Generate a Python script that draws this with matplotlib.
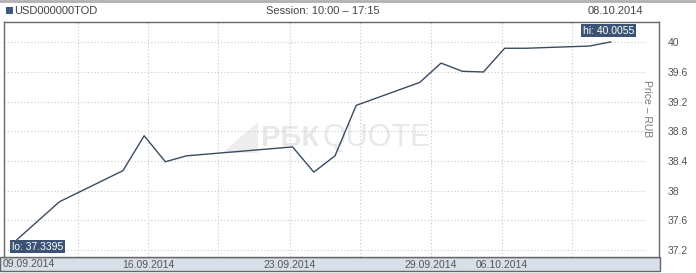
import matplotlib
matplotlib.use('Agg')
import matplotlib.pyplot as plt
import matplotlib.patches as patches

plt.rcParams['font.family'] = ['Liberation Sans', 'DejaVu Sans']

# session slots and prices (USD/RUB TOD)
slots = [0, 2, 5, 6, 7, 8, 13, 14, 15, 16, 19, 20, 21, 22, 23, 24, 27, 28]
prices = [37.3395, 37.85, 38.27, 38.74, 38.39, 38.47, 38.59, 38.25, 38.47,
          39.15, 39.46, 39.72, 39.61, 39.60, 39.92, 39.92, 39.95, 40.0055]

grid_slots = [2.88, 6.18, 9.48, 12.88, 16.18, 19.53, 22.88, 26.18]
date_labels = ['', '16.09.2014', '', '23.09.2014', '', '29.09.2014', '06.10.2014', '']
first_date = '09.09.2014'
y_ticks = [37.2, 37.6, 38.0, 38.4, 38.8, 39.2, 39.6, 40.0]
y_labels = ['37.2', '37.6', '38', '38.4', '38.8', '39.2', '39.6', '40']

W, H = 696, 273
LINE = '#3a4b60'
BOX = '#3b5374'
GRAY = '#555555'


def fx(px):
    return px / W


def fy(py):
    return 1 - py / H


fig = plt.figure(figsize=(W / 100, H / 100), dpi=100)

ax = fig.add_axes([fx(4), fy(257), (659 - 4) / W, (257 - 22) / H])
ax.set_xlim(-0.61, 30.28)
ax.set_ylim(37.106, 40.274)

# grid
for g in grid_slots:
    ax.axvline(g, color='#c8c8c8', linestyle=(0, (1, 2)), linewidth=0.8, zorder=1)
for t in y_ticks:
    ax.axhline(t, xmax=0.979, color='#c8c8c8', linestyle=(0, (1, 2)), linewidth=0.8, zorder=1)

ax.plot(slots, prices, color=LINE, linewidth=1.0, zorder=3)

# hi / lo labels
i_lo = prices.index(min(prices))
i_hi = prices.index(max(prices))
ax.annotate('lo: %.4f' % prices[i_lo], xy=(slots[i_lo], prices[i_lo]),
            xytext=(-5, -2), textcoords='offset pixels', ha='left', va='top',
            color='white', fontsize=7.5, zorder=4,
            bbox=dict(boxstyle='square,pad=0.15', facecolor=BOX, edgecolor='none'))
ax.annotate('hi: %.4f' % prices[i_hi], xy=(slots[i_hi], prices[i_hi]),
            xytext=(-2, 6), textcoords='offset pixels', ha='center', va='bottom',
            color='white', fontsize=7.5, zorder=4,
            bbox=dict(boxstyle='square,pad=0.15', facecolor=BOX, edgecolor='none'))

ax.set_xticks(grid_slots)
ax.set_xticklabels(date_labels)
ax.tick_params(axis='x', length=0, pad=2, labelsize=7.5, labelcolor=GRAY)
ax.yaxis.tick_right()
ax.set_yticks(y_ticks)
ax.set_yticklabels(y_labels)
ax.tick_params(axis='y', length=0, pad=6, labelsize=7.5, labelcolor=GRAY)
for ticklab in ax.get_yticklabels():
    ticklab.set_horizontalalignment('left')

for s in ax.spines.values():
    s.set_color('#666666')
    s.set_linewidth(1)

ax.text(0.990, 0.63, 'Price \u2013 RUB', transform=ax.transAxes, rotation=-90,
        ha='right', va='center', fontsize=7.5, color='#777777')

# watermark
ax.add_patch(patches.Polygon([(fx(222), fy(153)), (fx(258), fy(122)), (fx(258), fy(153))],
                             closed=True, transform=fig.transFigure,
                             facecolor='#ededed', edgecolor='none', zorder=0.5))
ax.text(fx(261), fy(138), '\u0420\u0411\u041a', transform=fig.transFigure,
        fontsize=21, fontweight='bold', color='#e8e8e8', ha='left', va='center', zorder=0.5)
ax.text(fx(323), fy(138), 'QUOTE', transform=fig.transFigure,
        fontsize=22, color='#e8e8e8', ha='left', va='center', zorder=0.5)

# date band
fig.add_artist(patches.Rectangle((0, fy(271)), fx(660), (271 - 257) / H,
                                 transform=fig.transFigure, facecolor='#d7dfe8',
                                 edgecolor='#666666', linewidth=1, zorder=-1))
fig.text(fx(3), fy(264), first_date, ha='left', va='center', fontsize=7.5, color=GRAY)

# header
fig.add_artist(plt.Line2D([0, 1], [fy(1), fy(1)], transform=fig.transFigure,
                          color='#b0b0b0', linewidth=2))
fig.add_artist(patches.Rectangle((fx(6), fy(14)), fx(7), 7 / H, transform=fig.transFigure,
                                 facecolor='#3d5a80', edgecolor='none'))
fig.text(fx(14), fy(11), 'USD000000TOD', ha='left', va='center', fontsize=8, color='#444444')
fig.text(fx(323), fy(11), 'Session: 10:00 \u2013 17:15', ha='center', va='center',
         fontsize=8, color='#444444')
fig.text(fx(643), fy(11), '08.10.2014', ha='right', va='center', fontsize=8, color='#444444')

fig.savefig('out.png', dpi=100)
plt.close(fig)
